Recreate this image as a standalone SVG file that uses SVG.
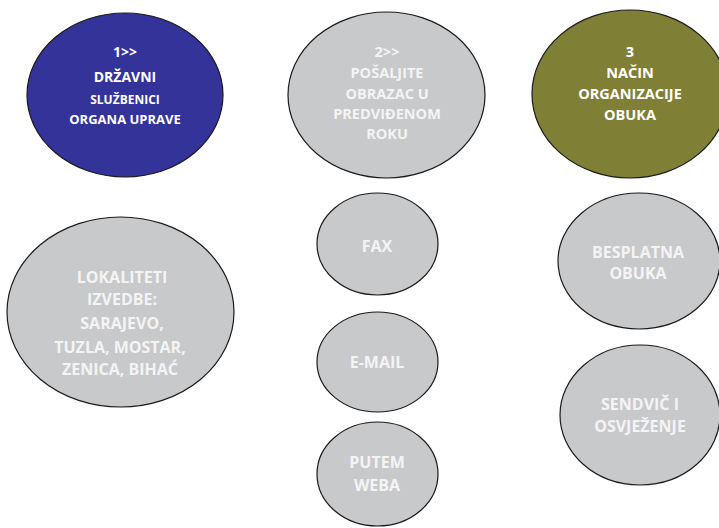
<svg xmlns="http://www.w3.org/2000/svg" width="719" height="528" viewBox="0 0 719 528">
<style>
.n{stroke:#1a1a1a;stroke-width:1.2}
.blue{fill:#333399}
.olive{fill:#7f7f35}
.gray{fill:#c8c9cb}
text{font-family:"Open Sans","Noto Sans","Liberation Sans",sans-serif;font-weight:bold;font-size:14.5px;text-anchor:middle;fill:#ffffff}
.lt{fill:#f4f4f4}
.big{font-size:16px}
</style>
<rect width="719" height="528" fill="#ffffff"/>
<g id="connectors"></g>
<g id="n1">
<ellipse class="n blue" cx="125" cy="95" rx="98" ry="82"/>
<text x="125" y="57" style="font-size:14px">1&gt;&gt;</text>
<text x="125" y="82" style="font-size:14px">DRŽAVNI</text>
<text x="125" y="104" style="font-size:12px">SLUŽBENICI</text>
<text x="125" y="124" style="font-size:13px">ORGANA UPRAVE</text>
</g>
<g id="n2">
<ellipse class="n gray" cx="386.5" cy="95" rx="98.5" ry="83"/>
<text class="lt" x="387" y="57">2&gt;&gt;</text>
<text class="lt" x="387" y="78">POŠALJITE</text>
<text class="lt" x="387" y="99">OBRAZAC U</text>
<text class="lt" x="387" y="119">PREDVIĐENOM</text>
<text class="lt" x="387" y="139">ROKU</text>
</g>
<g id="n3">
<ellipse class="n olive" cx="630" cy="94" rx="98" ry="84"/>
<text x="630" y="57">3</text>
<text x="630" y="78">NAČIN</text>
<text x="630" y="99">ORGANIZACIJE</text>
<text x="630" y="120">OBUKA</text>
</g>
<g id="n4">
<ellipse class="n gray" cx="120.5" cy="312" rx="113.5" ry="95"/>
<text class="lt big" x="122" y="283">LOKALITETI</text>
<text class="lt big" x="122" y="305">IZVEDBE:</text>
<text class="lt big" x="122" y="329">SARAJEVO,</text>
<text class="lt big" x="120" y="353">TUZLA, MOSTAR,</text>
<text class="lt big" x="120" y="375">ZENICA, BIHAĆ</text>
</g>
<g id="n5">
<ellipse class="n gray" cx="377.5" cy="244" rx="60.5" ry="51"/>
<text class="lt big" x="377" y="252">FAX</text>
</g>
<g id="n6">
<ellipse class="n gray" cx="377.5" cy="362" rx="60.5" ry="50"/>
<text class="lt big" x="377" y="368">E-MAIL</text>
</g>
<g id="n7">
<ellipse class="n gray" cx="377.5" cy="474" rx="60.5" ry="52"/>
<text class="lt big" x="377" y="468">PUTEM</text>
<text class="lt big" x="377" y="491">WEBA</text>
</g>
<g id="n8">
<ellipse class="n gray" cx="639" cy="261" rx="81" ry="68"/>
<text class="lt big" x="638" y="258">BESPLATNA</text>
<text class="lt big" x="638" y="279">OBUKA</text>
</g>
<g id="n9">
<ellipse class="n gray" cx="640" cy="415" rx="80" ry="70"/>
<text class="lt big" x="640" y="410">SENDVIČ I</text>
<text class="lt big" x="640" y="432">OSVJEŽENJE</text>
</g>
</svg>
